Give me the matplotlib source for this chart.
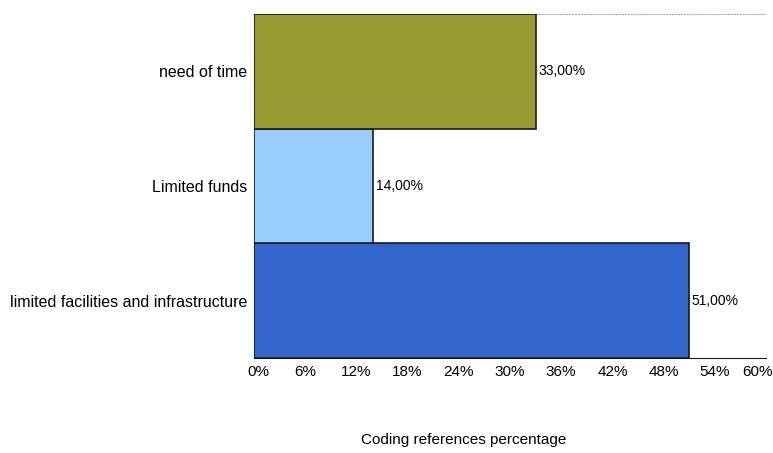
import matplotlib
matplotlib.use("Agg")
from matplotlib import pyplot as plt
from matplotlib.transforms import ScaledTranslation

categories = ["limited facilities and infrastructure", "Limited funds", "need of time"]
values = [51.0, 14.0, 33.0]
colors = ["#3366cc", "#99ccff", "#999933"]
ticks = [0, 6, 12, 18, 24, 30, 36, 42, 48, 54, 60]

plt.rcParams["font.family"] = ["Liberation Sans", "DejaVu Sans"]

fig = plt.figure(figsize=(7.73, 4.53), dpi=100)
ax = fig.add_axes([254 / 773, 1 - 358 / 453, (766 - 254) / 773, (358 - 14) / 453])

ypos = range(len(categories))
ax.barh(ypos, values, height=1.0, color=colors, edgecolor="#1a1a1a", linewidth=1.2, zorder=3)
for y, v in zip(ypos, values):
    ax.text(v + 0.3, y, f"{v:.2f}%".replace(".", ","), va="center", ha="left", fontsize=10)

ax.set_xlim(0, 60)
ax.set_ylim(-0.5, len(categories) - 0.5)
ax.set_xticks(ticks)
ax.set_xticklabels([f"{t}%" for t in ticks], fontsize=11)
ax.set_yticks(list(ypos))
ax.set_yticklabels(categories, fontsize=11.5)
ax.tick_params(axis="both", length=0, pad=5)

# squeeze the end labels inward like the original
labels = ax.get_xticklabels()
labels[0].set_transform(labels[0].get_transform() + ScaledTranslation(4 / 100, 0, fig.dpi_scale_trans))
labels[-1].set_transform(labels[-1].get_transform() + ScaledTranslation(-9 / 100, 0, fig.dpi_scale_trans))

ax.spines["right"].set_visible(False)
ax.spines["top"].set_color("#aaaaaa")
ax.spines["top"].set_linestyle(":")
ax.spines["top"].set_linewidth(0.8)
ax.spines["left"].set_color("#1a1a1a")
ax.spines["bottom"].set_color("#1a1a1a")

fig.text(464 / 773, 1 - 440 / 453, "Coding references percentage", ha="center", va="center", fontsize=11)

fig.savefig("out.png", dpi=100)
